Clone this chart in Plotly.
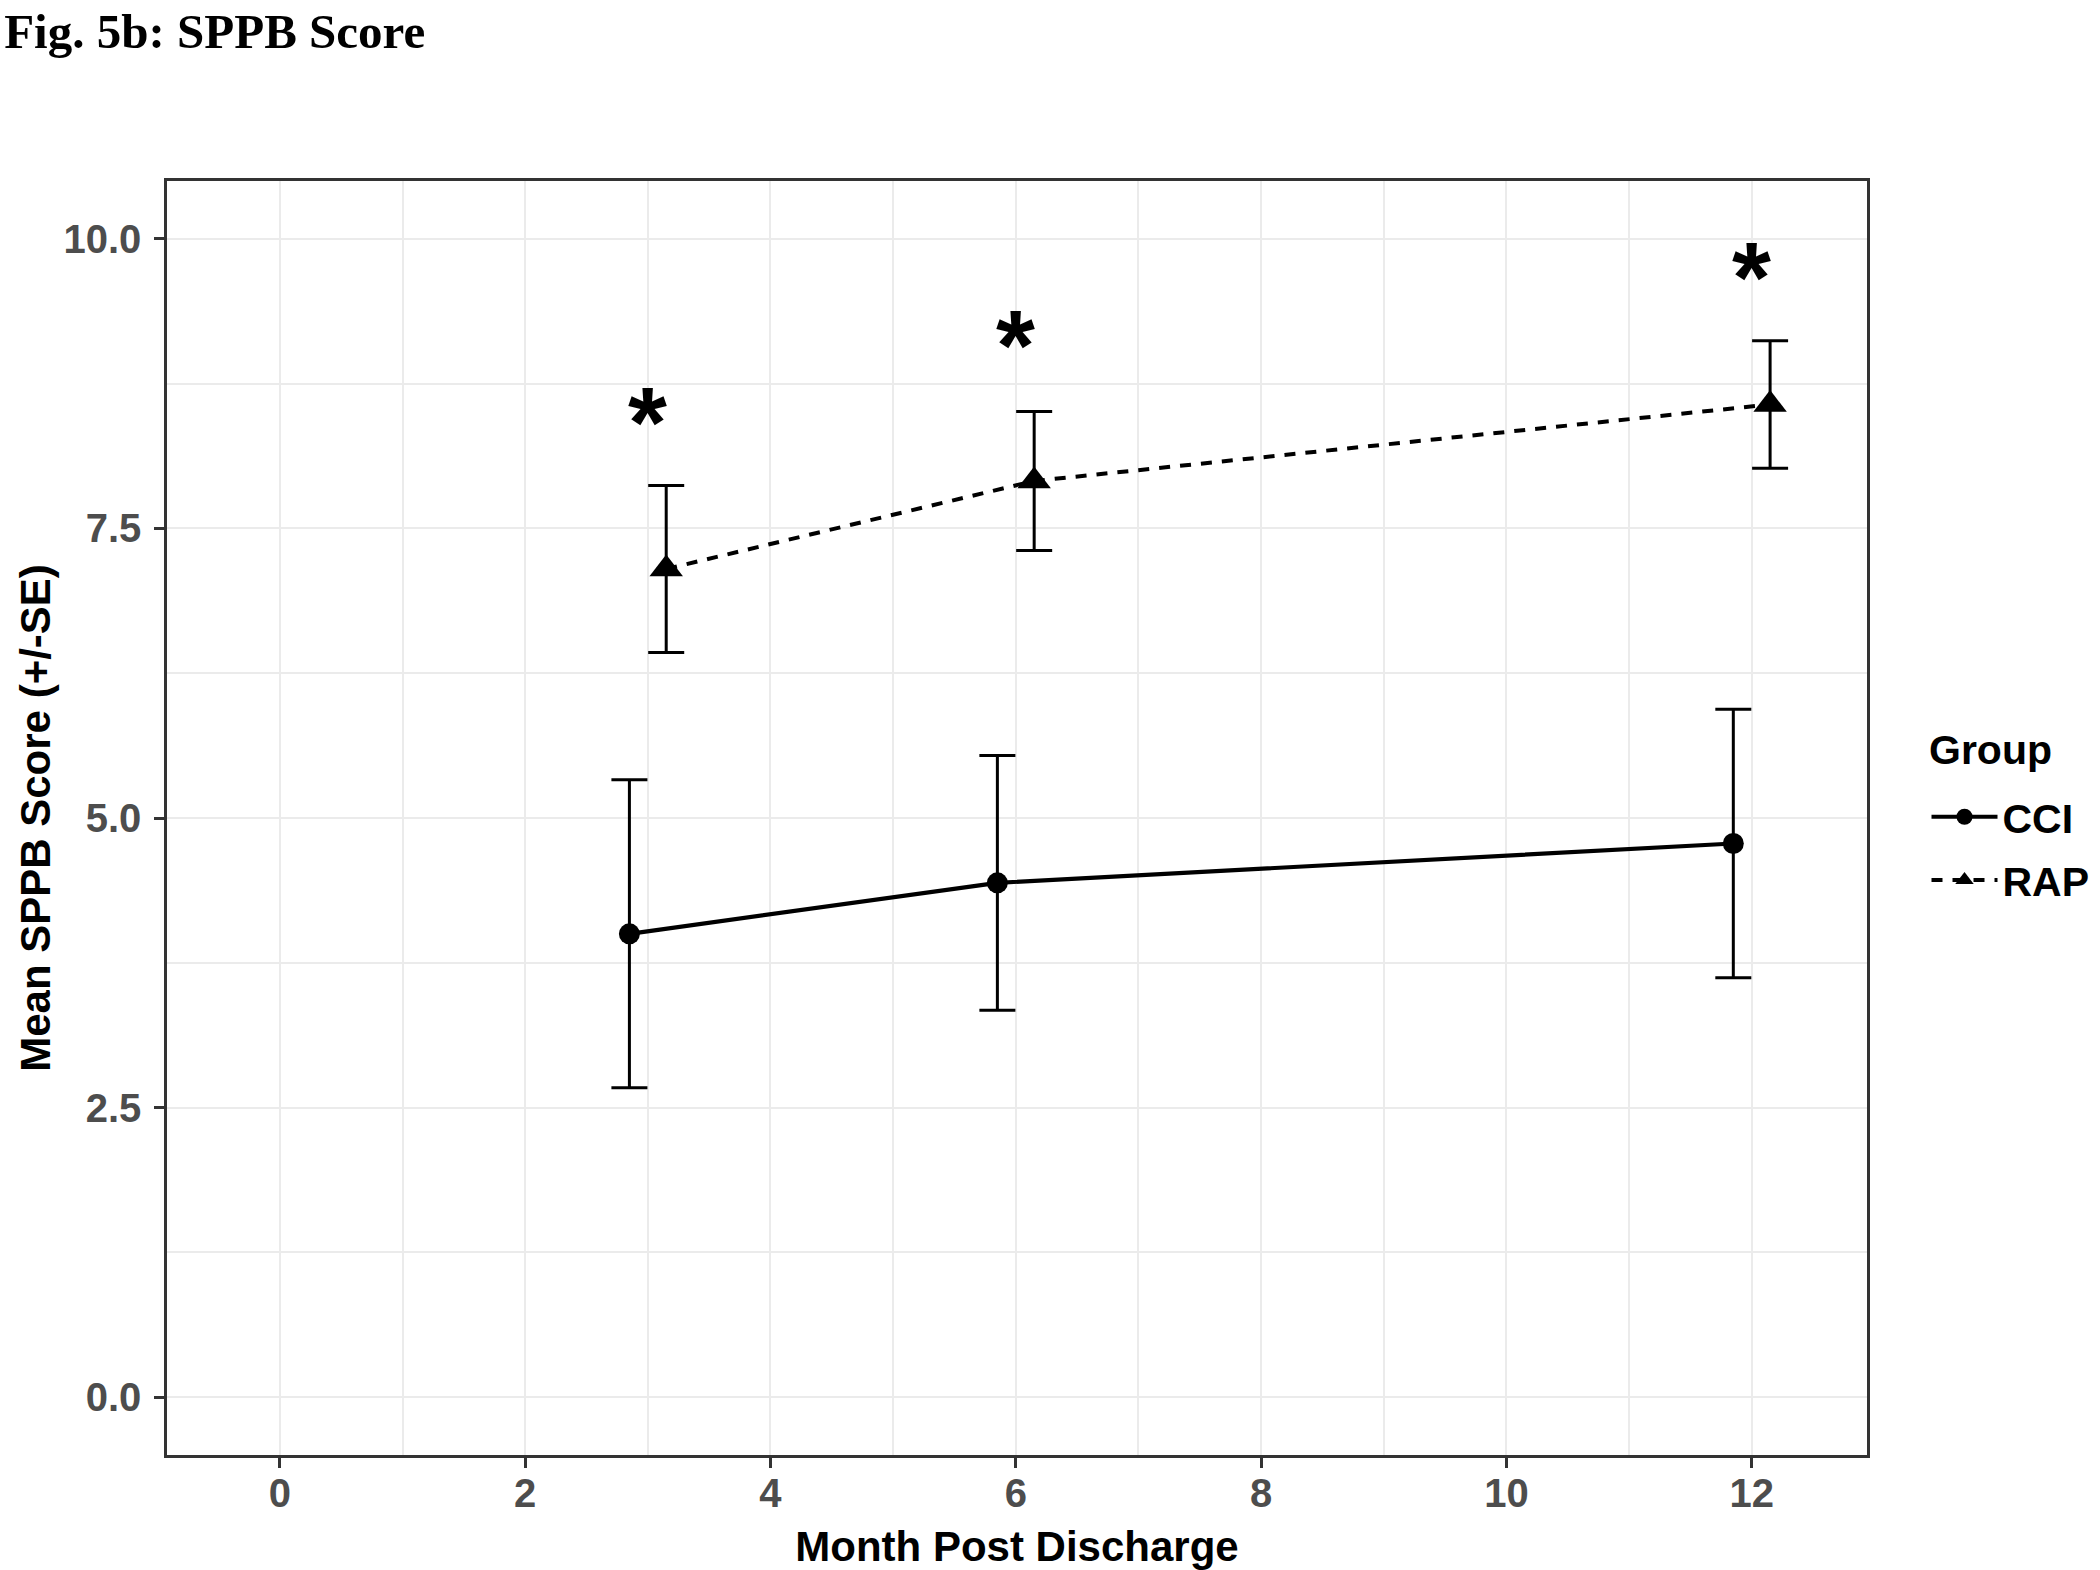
import plotly.graph_objects as go

# ---- data ----
months = [3, 6, 12]
dodge = 0.15
cci_mean = [4.00, 4.44, 4.78]
cci_se = [1.33, 1.10, 1.16]
rap_mean = [7.15, 7.91, 8.57]
rap_se = [0.72, 0.60, 0.55]
star_x = [3, 6, 12]
star_y = [8.55, 9.21, 9.80]
x_ticks = [0, 2, 4, 6, 8, 10, 12]
y_ticks = [0.0, 2.5, 5.0, 7.5, 10.0]
y_tick_labels = ["0.0", "2.5", "5.0", "7.5", "10.0"]

FONT = "Liberation Sans"

fig = go.Figure()

fig.add_trace(go.Scatter(
    x=[m - dodge for m in months], y=cci_mean, name="CCI", legendgroup="CCI",
    mode="lines+markers",
    line=dict(color="black", width=4.2, dash="solid"),
    marker=dict(symbol="circle", size=21, color="black"),
    error_y=dict(type="data", array=cci_se, visible=True, width=18, thickness=3, color="black"),
))
fig.add_trace(go.Scatter(
    x=[m + dodge for m in months], y=rap_mean, name="RAP", legendgroup="RAP",
    mode="lines+markers",
    line=dict(color="black", width=4, dash="11px,10px"),
    marker=dict(symbol="triangle-up", size=29, color="black"),
    error_y=dict(type="data", array=rap_se, visible=True, width=18, thickness=3, color="black"),
))

for sx, sy in zip(star_x, star_y):
    fig.add_annotation(x=sx, y=sy, text="*", showarrow=False,
                       xanchor="center", yanchor="middle", yshift=-15,
                       font=dict(family=FONT, size=100, color="black", weight="bold"))

# legend title drawn as a text annotation so its spacing can match
fig.add_annotation(x=1.0353, y=0.5534, xref="paper", yref="paper", text="Group",
                   showarrow=False, xanchor="left", yanchor="middle",
                   font=dict(family=FONT, size=41, color="black", weight="bold"))

axis_common = dict(
    showline=True, linecolor="#333333", linewidth=2.5, mirror=True,
    ticks="outside", ticklen=10, tickwidth=2.5, tickcolor="#333333",
    showgrid=True, gridcolor="#EBEBEB", gridwidth=2,
    zeroline=False,
    tickfont=dict(family=FONT, size=40, color="#4D4D4D", weight="bold"),
)

fig.update_xaxes(
    range=[-0.92, 12.94], tickmode="array", tickvals=x_ticks,
    ticktext=[str(t) for t in x_ticks], ticklabelstandoff=-9,
    minor=dict(dtick=1, tick0=0, showgrid=True, gridcolor="#EBEBEB", gridwidth=1.5, ticks=""),
    title=dict(text="Month Post Discharge", standoff=23,
               font=dict(family=FONT, size=42, color="black", weight="bold")),
    **axis_common,
)
fig.update_yaxes(
    range=[-0.5, 10.5], tickmode="array", tickvals=y_ticks, ticktext=y_tick_labels,
    ticklabelstandoff=5,
    minor=dict(dtick=1.25, tick0=0, showgrid=True, gridcolor="#EBEBEB", gridwidth=1.5, ticks=""),
    title=dict(text="Mean SPPB Score (+/-SE)", standoff=0,
               font=dict(family=FONT, size=42, color="black", weight="bold")),
    **axis_common,
)

fig.update_layout(
    width=2100, height=1570,
    paper_bgcolor="white", plot_bgcolor="white",
    margin=dict(l=167, r=233, t=181, b=115, autoexpand=False),
    title=dict(text="Fig. 5b: SPPB Score", xref="container", yref="container",
               x=0.002, xanchor="left", y=0.991, yanchor="top", pad=dict(l=0, t=0),
               font=dict(family="Liberation Serif", size=49, color="black", weight="bold")),
    showlegend=True,
    legend=dict(
        font=dict(family=FONT, size=41, color="black", weight="bold"),
        x=1.035, xanchor="left", y=0.527, yanchor="top",
        bgcolor="rgba(0,0,0,0)", itemwidth=66, tracegroupgap=7,
    ),
)

fig.write_html("out.html", config={"displayModeBar": False},
               post_script="document.body.style.margin='0';document.body.style.overflow='hidden';")
